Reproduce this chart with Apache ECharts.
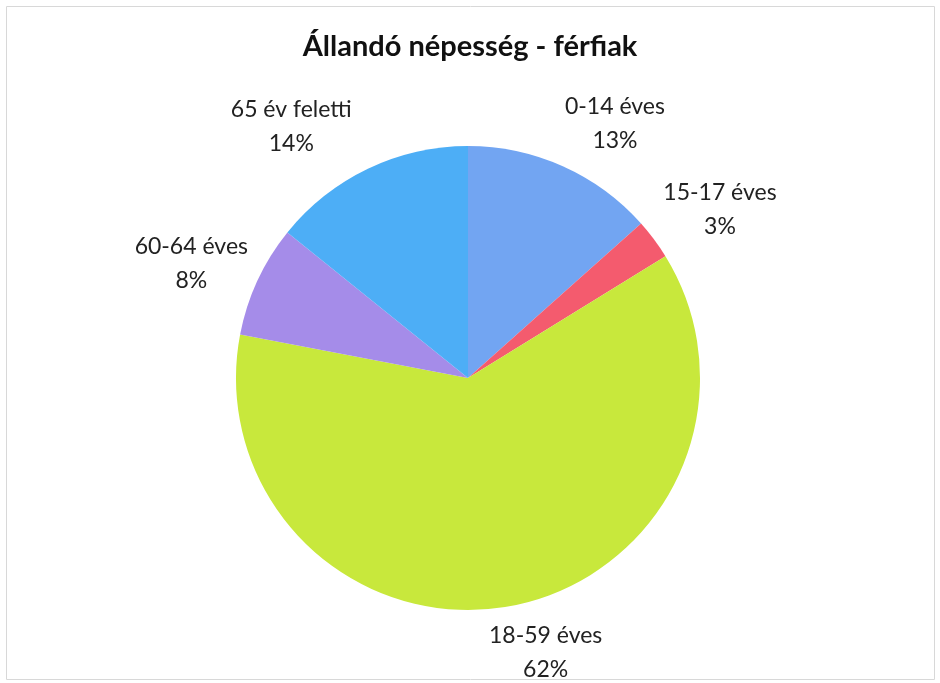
<!DOCTYPE html>
<html><head><meta charset="utf-8">
<script src="https://cdn.jsdelivr.net/npm/echarts@6/dist/echarts.min.js"></script>
<style>html,body{margin:0;padding:0;background:#fff}#c{width:940px;height:683px}</style>
</head><body><div id="c"></div>
<script>
var categories = ['0-14 éves', '15-17 éves', '18-59 éves', '60-64 éves', '65 év feletti'];
var values = [13.4, 2.8, 61.8, 7.8, 14.2];
var colors = ['#72A5F2', '#F45B6E', '#C8E83C', '#A58CE9', '#4DAEF6'];
var title = 'Állandó népesség - férfiak';
// label nudges (Excel-style placement)
var labelDx = [-31, -25, -43, 27, 7];
var labelDy = [-24, -18, 27, -9, -24];

var chart = echarts.init(document.getElementById('c'));
var data = categories.map(function (n, i) { return { name: n, value: values[i], itemStyle: { color: colors[i] } }; });
chart.setOption({
  animation: false,
  title: { text: title, left: 'center', top: 27, textStyle: { fontFamily: 'Lato', fontWeight: 'bold', fontSize: 29, color: '#111' } },
  graphic: [{ type: 'rect', shape: { x: 6.5, y: 6.5, width: 928, height: 673 }, style: { fill: 'none', stroke: '#d8d8d8', lineWidth: 1 } }],
  series: [{
    type: 'pie',
    center: [468, 378],
    radius: 232,
    startAngle: 90,
    clockwise: true,
    data: data,
    label: {
      position: 'outside',
      formatter: function (p) { return '{a|' + p.name + '}\n{a|' + Math.round(p.percent) + '%}'; },
      rich: { a: { fontFamily: 'Lato', fontSize: 23, color: '#222', lineHeight: 34, width: 140, align: 'center' } }
    },
    labelLine: { show: false, length: 20, length2: 0 },
    labelLayout: function (p) { return { dx: labelDx[p.dataIndex], dy: labelDy[p.dataIndex] }; },
    itemStyle: { borderWidth: 0 }
  }]
});
</script></body></html>
